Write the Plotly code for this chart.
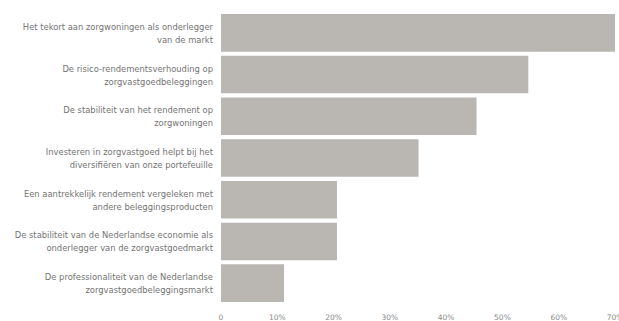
import plotly.graph_objects as go

categories = [
    "Het tekort aan zorgwoningen als onderlegger<br>van de markt",
    "De risico-rendementsverhouding op<br>zorgvastgoedbeleggingen",
    "De stabiliteit van het rendement op<br>zorgwoningen",
    "Investeren in zorgvastgoed helpt bij het<br>diversifiëren van onze portefeuille",
    "Een aantrekkelijk rendement vergeleken met<br>andere beleggingsproducten",
    "De stabiliteit van de Nederlandse economie als<br>onderlegger van de zorgvastgoedmarkt",
    "De professionaliteit van de Nederlandse<br>zorgvastgoedbeleggingsmarkt",
]
values = [70.0, 54.6, 45.4, 35.1, 20.6, 20.6, 11.2]
tick_vals = [0, 10, 20, 30, 40, 50, 60, 70]
tick_text = ["0", "10%", "20%", "30%", "40%", "50%", "60%", "70%"]


def small_lines(label, size=8.4):
    parts = label.split("<br>")
    return "<br>".join(f"<span style='font-size:{size}px'>{p}</span>" for p in parts)


y_ticktext = [small_lines(c) for c in categories]

fig = go.Figure(
    go.Bar(
        x=values,
        y=categories,
        orientation="h",
        marker=dict(color="#bab7b2", line=dict(width=0)),
        hoverinfo="skip",
    )
)

fig.update_layout(
    width=619,
    height=321,
    margin=dict(l=221, r=4, t=12, b=17),
    paper_bgcolor="white",
    plot_bgcolor="white",
    bargap=0.1,
    showlegend=False,
    font=dict(family="DejaVu Sans", color="#6e6e6e"),
)
fig.update_xaxes(
    range=[0, 70],
    tickvals=tick_vals,
    ticktext=tick_text,
    showgrid=False,
    zeroline=False,
    showline=False,
    ticks="",
    tickfont=dict(size=7.5, color="#8a8a8a"),
    ticklabelstandoff=7,
    ticklabeloverflow="allow",
    automargin=False,
    fixedrange=True,
)
fig.update_yaxes(
    autorange="reversed",
    tickvals=categories,
    ticktext=y_ticktext,
    showgrid=False,
    zeroline=False,
    showline=False,
    ticks="",
    tickfont=dict(size=10, color="#737373"),
    ticklabelstandoff=7,
    automargin=False,
    fixedrange=True,
)

fig.write_html("out.html", config={"displayModeBar": False})
